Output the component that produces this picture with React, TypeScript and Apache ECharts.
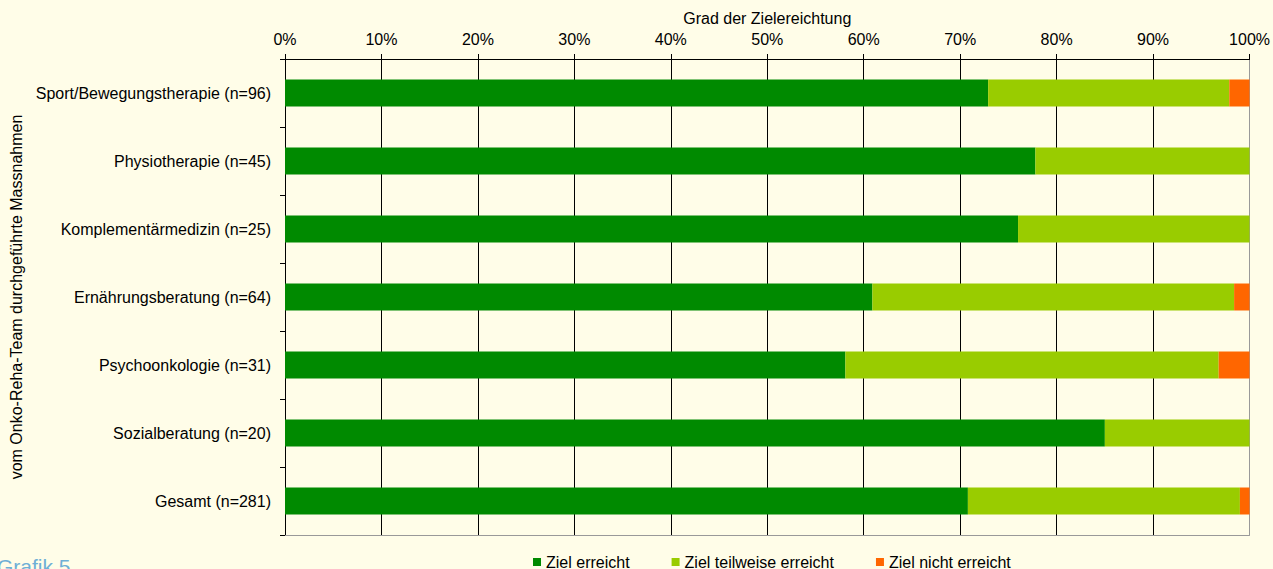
import React, { useEffect, useRef } from "react";
import * as echarts from "echarts";

const categories = [
  "Sport/Bewegungstherapie (n=96)",
  "Physiotherapie (n=45)",
  "Komplementärmedizin (n=25)",
  "Ernährungsberatung (n=64)",
  "Psychoonkologie (n=31)",
  "Sozialberatung (n=20)",
  "Gesamt (n=281)",
];
const zielErreicht = [72.9, 77.8, 76.0, 60.9, 58.1, 85.0, 70.8];
const zielTeilweise = [25.0, 22.2, 24.0, 37.5, 38.7, 15.0, 28.2];
const zielNicht = [2.1, 0, 0, 1.6, 3.2, 0, 1.0];
const seriesNames = ["Ziel erreicht", "Ziel teilweise erreicht", "Ziel nicht erreicht"];
const xTicks = { min: 0, max: 100, interval: 10 };

const FONT = "'Liberation Sans', Arial, sans-serif";

export default function App() {
  const ref = useRef<HTMLDivElement>(null);
  useEffect(() => {
    document.body.style.margin = "0";
    if (!ref.current) return;
    const chart = echarts.init(ref.current, undefined, { renderer: "svg" });
    const splitColors: string[] = [];
    for (let v = xTicks.min; v <= xTicks.max; v += xTicks.interval) {
      splitColors.push(v === xTicks.max ? "#999999" : "#000000");
    }
    chart.setOption({
      animation: false,
      backgroundColor: "#FFFDE8",
      textStyle: { fontFamily: FONT },
      grid: { left: 285, right: 22, top: 59, bottom: 34, containLabel: false },
      legend: {
        left: 533,
        top: 553,
        icon: "rect",
        itemWidth: 8,
        itemHeight: 8,
        itemGap: 42,
        padding: 0,
        textStyle: { fontSize: 16, color: "#000", fontFamily: FONT, lineHeight: 18 },
        data: seriesNames,
      },
      xAxis: [
        {
          type: "value",
          position: "top",
          min: xTicks.min,
          max: xTicks.max,
          interval: xTicks.interval,
          name: "Grad der Zielereichtung",
          nameLocation: "middle",
          nameGap: 33,
          nameTextStyle: { fontSize: 16, color: "#000", fontFamily: FONT },
          axisLine: { show: true, lineStyle: { color: "#000", width: 1 } },
          axisTick: { show: true, inside: false, length: 5, lineStyle: { color: "#000" } },
          axisLabel: { formatter: "{value}%", fontSize: 16, color: "#000", margin: 12, fontFamily: FONT },
          splitLine: { show: true, lineStyle: { color: splitColors, width: 1 } },
        },
        {
          type: "value",
          position: "bottom",
          min: xTicks.min,
          max: xTicks.max,
          axisLine: { show: true, lineStyle: { color: "#999999", width: 1 } },
          axisTick: { show: false },
          axisLabel: { show: false },
          splitLine: { show: false },
        },
      ],
      yAxis: {
        type: "category",
        inverse: true,
        data: categories,
        name: "vom Onko-Reha-Team durchgeführte Massnahmen",
        nameLocation: "middle",
        nameRotate: 90,
        nameGap: 256,
        nameTextStyle: { fontSize: 16, color: "#000", fontFamily: FONT },
        axisLine: { show: true, lineStyle: { color: "#000", width: 1 } },
        axisTick: { show: true, inside: false, length: 5, lineStyle: { color: "#000" } },
        axisLabel: { fontSize: 16, color: "#000", margin: 14, fontFamily: FONT },
        splitLine: { show: false },
      },
      graphic: [
        {
          type: "text",
          left: -3,
          top: 556,
          style: { text: "Grafik 5", fontSize: 21, fill: "#6EAFD6", fontFamily: FONT },
        },
      ],
      series: [
        { name: seriesNames[0], type: "bar", stack: "s", data: zielErreicht, barWidth: 27, itemStyle: { color: "#008A00" } },
        { name: seriesNames[1], type: "bar", stack: "s", data: zielTeilweise, barWidth: 27, itemStyle: { color: "#99CC00" } },
        { name: seriesNames[2], type: "bar", stack: "s", data: zielNicht, barWidth: 27, itemStyle: { color: "#FF6600" } },
      ],
    });
    return () => chart.dispose();
  }, []);
  return (
    <div
      ref={ref}
      style={{ position: "absolute", left: 0, top: 0, width: 1273, height: 569, background: "#FFFDE8" }}
    />
  );
}
